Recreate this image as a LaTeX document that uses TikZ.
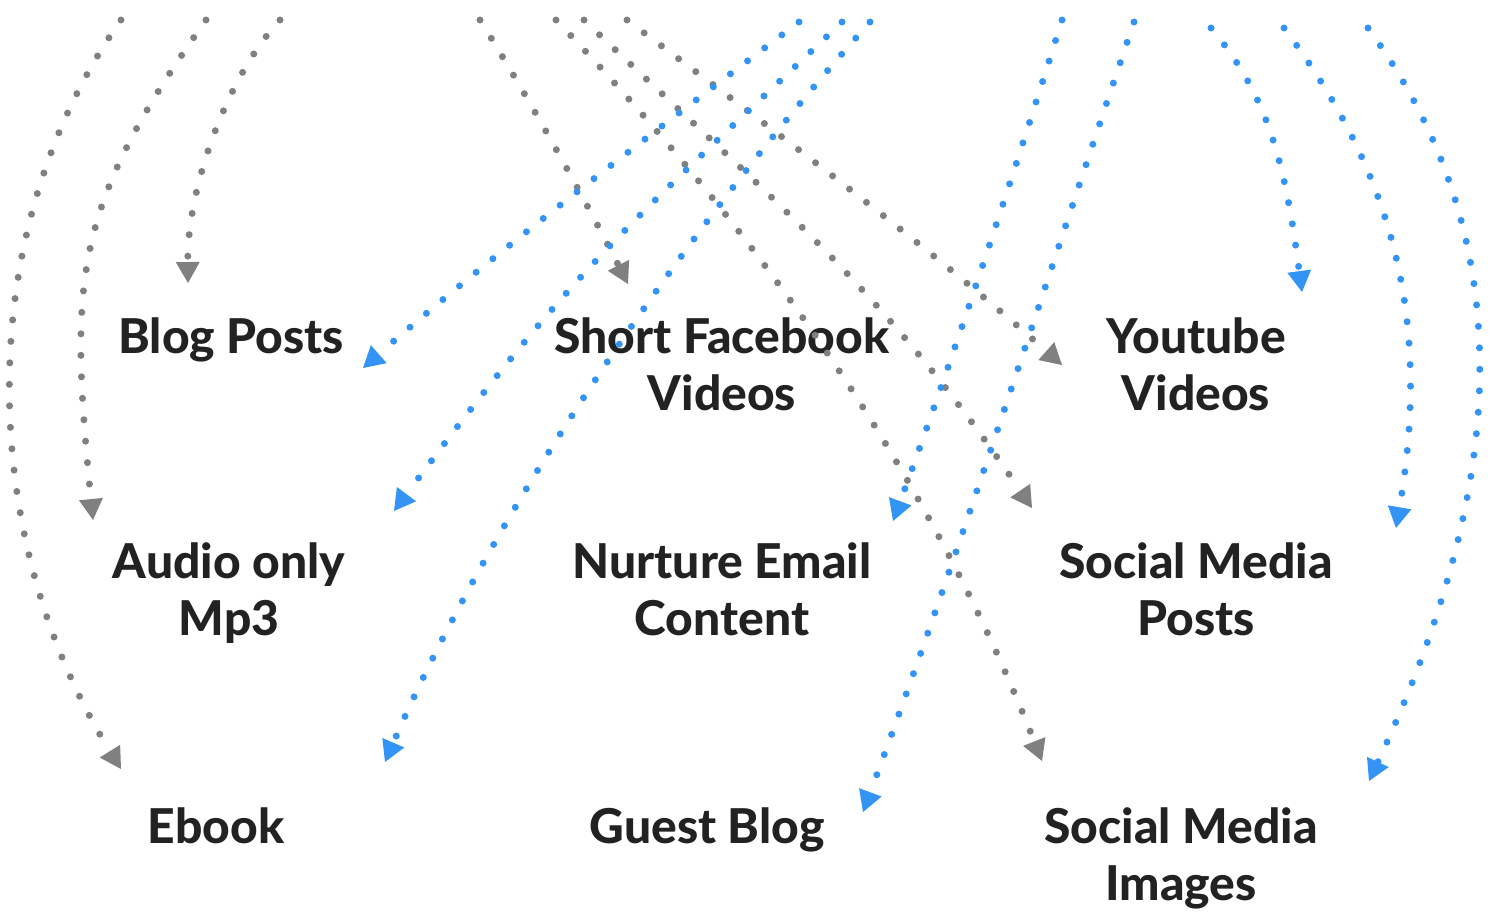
\documentclass[tikz,border=0pt]{standalone}
\usepackage{fontspec}
\IfFontExistsTF{Lato Heavy}
    {\newfontfamily\labelfont{Lato Heavy}}
    {\newfontfamily\labelfont{Lato Bold}}
\definecolor{ArrowGray}{RGB}{128,128,128}
\definecolor{ArrowBlue}{RGB}{52,148,245}
\definecolor{LabelText}{RGB}{34,34,34}
\usetikzlibrary{arrows.meta}
\tikzset{
    dot line/.style={
        line width=7pt, line cap=round, dash pattern=on 0pt off 21.5pt,
        -{Triangle[length=21pt, width=24pt, line width=0pt]}
    },
    dot gray/.style={dot line, draw=ArrowGray},
    dot blue/.style={dot line, draw=ArrowBlue},
    item label/.style={
        font=\labelfont\fontsize{48}{57}\selectfont,
        text=LabelText, align=center, inner sep=0pt, anchor=base
    }
}

\begin{document}
\begin{tikzpicture}[x=1pt, y=-1pt]

\useasboundingbox (0,0) rectangle (1495,911);

% Nombres de los contenidos (la base es la de la ultima linea).
\node[item label] (blog) at (231,353) {Blog Posts};
\node[item label] (shortfb) at (722,410) {Short Facebook\\Videos};
\node[item label] (youtube) at (1196,410) {Youtube\\Videos};
\node[item label] (audio) at (229,635) {Audio only\\Mp3};
\node[item label] (nurture) at (722,635) {Nurture Email\\Content};
\node[item label] (smposts) at (1196,635) {Social Media\\Posts};
\node[item label] (ebook) at (216,843) {Ebook};
\node[item label] (guest) at (707,843) {Guest Blog};
\node[item label] (smimages) at (1181,900) {Social Media\\Images};

% Puntos de partida en el borde superior.
\coordinate (gEbook) at (121,20);
\coordinate (gAudio) at (206,20);
\coordinate (gBlog) at (280,20);
\coordinate (gShort) at (480,20);
\coordinate (gImages) at (556,20);
\coordinate (gPosts) at (584,20);
\coordinate (gTube) at (627,20);
\coordinate (bBlog) at (799,22);
\coordinate (bAudio) at (842,22);
\coordinate (bEbook) at (870,22);
\coordinate (bNurture) at (1062,20);
\coordinate (bGuest) at (1134,22);
\coordinate (bTube) at (1211,28);
\coordinate (bPosts) at (1284,28);
\coordinate (bImages) at (1368,28);

% Flechas grises.
\draw[dot gray] (gEbook) .. controls +(-150,212) and +(-144,-232) .. ([shift={(-95,-74)}]ebook.base);
\draw[dot gray] (gAudio) .. controls +(-133,188) and +(-24,-242) .. ([shift={(-136,-115)}]audio.base);
\draw[dot gray] (gBlog) .. controls +(-54,58) and +(-1,-93) .. ([shift={(-43,-70)}]blog.base);
\draw[dot gray] (gShort) .. controls +(48,77) and +(-47,-92) .. ([shift={(-94,-126)}]shortfb.base);
\draw[dot gray] (gImages) .. controls +(262,274) and +(-86,-218) .. ([shift={(-139,-139)}]smimages.base);
\draw[dot gray] (gPosts) .. controls +(184,176) and +(-151,-223) .. ([shift={(-164,-127)}]smposts.base);
\draw[dot gray] (gTube) .. controls +(140,105) and +(-140,-124) .. ([shift={(-134,-45)}]youtube.base);

% Flechas azules, encima de las grises.
\draw[dot blue] (bBlog) .. controls +(-150,113) and +(123,-108) .. ([shift={(132,15)}]blog.base);
\draw[dot blue] (bAudio) .. controls +(-217,207) and +(187,-252) .. ([shift={(165,-124)}]audio.base);
\draw[dot blue] (bEbook) .. controls +(-193,216) and +(105,-243) .. ([shift={(169,-81)}]ebook.base);
\draw[dot blue] (bNurture) .. controls +(-50,160) and +(60,-163) .. ([shift={(171,-114)}]nurture.base);
\draw[dot blue] (bGuest) .. controls +(-85,250) and +(100,-269) .. ([shift={(156,-31)}]guest.base);
\draw[dot blue] (bTube) .. controls +(58,69) and +(-17,-128) .. ([shift={(106,-118)}]youtube.base);
\draw[dot blue] (bPosts) .. controls +(108,144) and +(36,-210) .. ([shift={(200,-107)}]smposts.base);
\draw[dot blue] (bImages) .. controls +(167,229) and +(126,-270) .. ([shift={(188,-119)}]smimages.base);

\end{tikzpicture}
\end{document}
